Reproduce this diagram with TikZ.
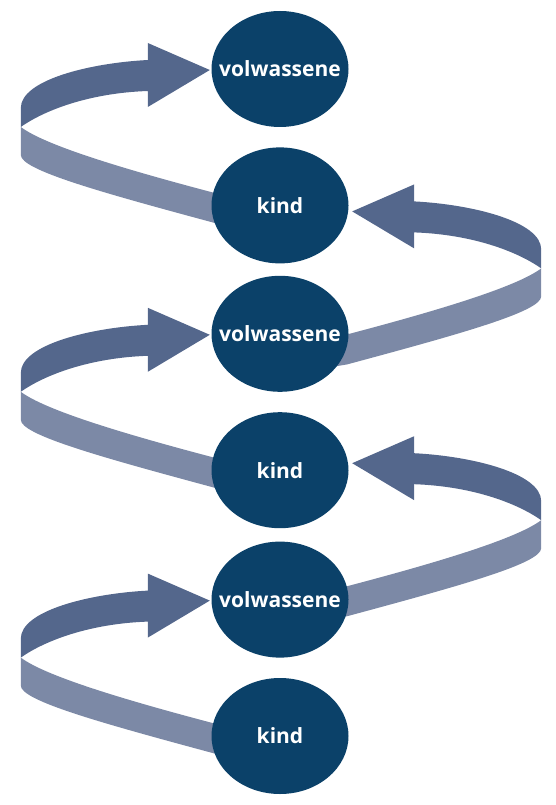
\documentclass[tikz,border=0pt]{standalone}
\usepackage{fontspec}
\setmainfont{Open Sans}
\usetikzlibrary{positioning, shapes.geometric, backgrounds}

\definecolor{ovalblue}{HTML}{0B4169}
\definecolor{bandtop}{HTML}{54678C}
\definecolor{bandlow}{HTML}{7C89A6}

\tikzset{
  ribbon/.pic={
    % lower half, seen from below
    \fill[bandlow] (-189,57) -- (-189,85) .. controls (-189,100) and (-110,122) .. (5,153)
      -- (35,158) -- (35,129) -- (5,123) .. controls (-90,98) and (-165,75) .. (-189,57) -- cycle;
    % upper half with the head
    \fill[bandtop] (-189,57) -- (-189,38) .. controls (-189,10) and (-120,-7) .. (-62,-10)
      -- (-62,-27) -- (0,0) -- (-62,37) -- (-62,21) .. controls (-120,23) and (-165,40) .. (-189,57) -- cycle;
  }
}

\begin{document}
\begin{tikzpicture}[x=1pt, y=-1pt,
  stage/.style={ellipse, fill=ovalblue, text=white, inner xsep=-30pt, inner ysep=0pt,
    minimum width=137pt, minimum height=116pt,
    font=\fontsize{21}{24}\selectfont\bfseries}]
\useasboundingbox (0,0) rectangle (555,805);
\node[stage] (v1) at (280,69) {volwassene};
\node[stage, below=20pt of v1] (k1) {kind};
\node[stage, below=12pt of k1] (v2) {volwassene};
\node[stage, below=20pt of v2] (k2) {kind};
\node[stage, below=13pt of k2] (v3) {volwassene};
\node[stage, below=20pt of v3] (k3) {kind};
\begin{scope}[on background layer]
\pic at ([shift={(-1.5,1)}]v1.west) {ribbon};
\pic at ([shift={(-1.5,1)}]v2.west) {ribbon};
\pic at ([shift={(-1.5,1)}]v3.west) {ribbon};
\pic[xscale=-1] at ([shift={(3.5,6)}]k1.east) {ribbon};
\pic[xscale=-1] at ([shift={(3.5,-7)}]k2.east) {ribbon};
\end{scope}
\end{tikzpicture}
\end{document}
